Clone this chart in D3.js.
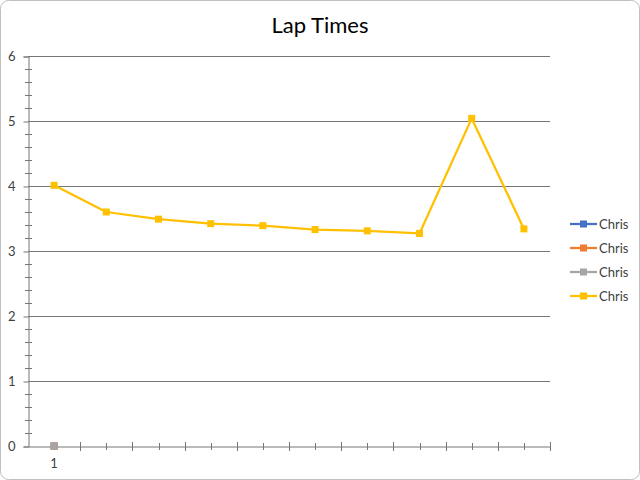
<!DOCTYPE html>
<html><head><meta charset="utf-8">
<script src="https://cdn.jsdelivr.net/npm/d3@7"></script>
<style>body{margin:0;background:#fff}svg{display:block}</style>
</head><body>
<svg id="c" width="640" height="480"></svg>
<script>
const title = "Lap Times";
const categoryLabels = ["1", "", "", "", "", "", "", "", "", ""];
const seriesNames = ["Chris", "Chris", "Chris", "Chris"];
const seriesColors = ["#4472C4", "#ED7D31", "#A5A5A5", "#FFC000"];
const series1 = [0];
const series2 = [0];
const series3 = [0];
const series4 = [4.01, 3.60, 3.49, 3.42, 3.39, 3.33, 3.31, 3.27, 5.04, 3.34];
const yTicks = [0, 1, 2, 3, 4, 5, 6];

const allSeries = [series1, series2, series3, series4];
const svg = d3.select("#c");
const font = "Lato, 'Open Sans', sans-serif";
const txt = "#404040";

svg.append("rect").attr("x", 0.5).attr("y", 0.5).attr("width", 639).attr("height", 479)
  .attr("rx", 8).attr("fill", "#fff").attr("stroke", "#bfbfbf");

const L = 28, R = 550, T = 56, B = 446;
const idx = d3.range(categoryLabels.length);
const x = d3.scaleBand().domain(idx).range([L, R]);
const y = d3.scaleLinear().domain([0, 6]).range([B, T]);

svg.append("text").attr("x", 320).attr("y", 33).attr("text-anchor", "middle")
  .attr("font-family", font).attr("font-size", 22).attr("fill", "#000").text(title);

// gridlines
svg.append("g").selectAll("line").data(yTicks.filter(d => d > 0)).join("line")
  .attr("x1", L).attr("x2", R).attr("y1", d => y(d) + 0.5).attr("y2", d => y(d) + 0.5)
  .attr("stroke", "#767676").attr("stroke-width", 1.2);

// y axis
const gy = svg.append("g").attr("transform", `translate(${L + 0.5},0.5)`)
  .call(d3.axisLeft(y).tickValues(yTicks).tickSize(5).tickPadding(8).tickFormat(d3.format("d")));
gy.select(".domain").attr("stroke", "#767676");
gy.selectAll(".tick line").attr("stroke", "#767676");
gy.selectAll("text").attr("font-family", font).attr("font-size", 13).attr("fill", txt);
// minor y ticks
const minorY = d3.range(0, 6.001, 0.2).filter(v => Math.abs(v - Math.round(v)) > 1e-6);
svg.append("g").selectAll("line").data(minorY).join("line")
  .attr("x1", L - 3).attr("x2", L + 4).attr("y1", d => Math.round(y(d)) + 0.5).attr("y2", d => Math.round(y(d)) + 0.5)
  .attr("stroke", "#767676");

// x axis
const gx = svg.append("g").attr("transform", `translate(0,${B + 0.5})`)
  .call(d3.axisBottom(x).tickFormat(i => categoryLabels[i]).tickSize(0).tickPadding(12));
gx.select(".domain").attr("stroke", "#767676");
gx.selectAll("text").attr("font-family", font).attr("font-size", 13).attr("fill", txt);
// major ticks at band boundaries
const bounds = idx.map(i => x(i) + x.bandwidth());
svg.append("g").selectAll("line").data(bounds).join("line")
  .attr("x1", d => Math.round(d) + 0.5).attr("x2", d => Math.round(d) + 0.5)
  .attr("y1", B - 4).attr("y2", B + 5).attr("stroke", "#767676");
// minor ticks at centers
svg.append("g").selectAll("line").data(idx.slice(1)).join("line")
  .attr("x1", i => Math.round(x(i) + x.bandwidth() / 2) + 0.5).attr("x2", i => Math.round(x(i) + x.bandwidth() / 2) + 0.5)
  .attr("y1", B - 3).attr("y2", B + 4).attr("stroke", "#767676");

const cx = i => x(i) + x.bandwidth() / 2;
const line = d3.line().x((d, i) => cx(i)).y(d => y(d));
allSeries.forEach((s, k) => {
  const g = svg.append("g");
  g.append("path").datum(s).attr("d", line).attr("fill", "none")
    .attr("stroke", seriesColors[k]).attr("stroke-width", 2.25).attr("stroke-linejoin", "round");
  g.selectAll("rect").data(s).join("rect")
    .attr("x", (d, i) => cx(i) - 3.5).attr("y", d => y(d) - 3.5).attr("width", 7).attr("height", 7)
    .attr("fill", seriesColors[k]);
});

// legend
const lg = svg.append("g");
seriesNames.forEach((n, k) => {
  const ly = 224 + k * 24;
  lg.append("line").attr("x1", 570).attr("x2", 597).attr("y1", ly).attr("y2", ly)
    .attr("stroke", seriesColors[k]).attr("stroke-width", 2.25);
  lg.append("rect").attr("x", 580).attr("y", ly - 3.5).attr("width", 7).attr("height", 7).attr("fill", seriesColors[k]);
  lg.append("text").attr("x", 599).attr("y", ly + 4.5).attr("font-family", font).attr("font-size", 13)
    .attr("fill", txt).text(n);
});
</script>
</body></html>
